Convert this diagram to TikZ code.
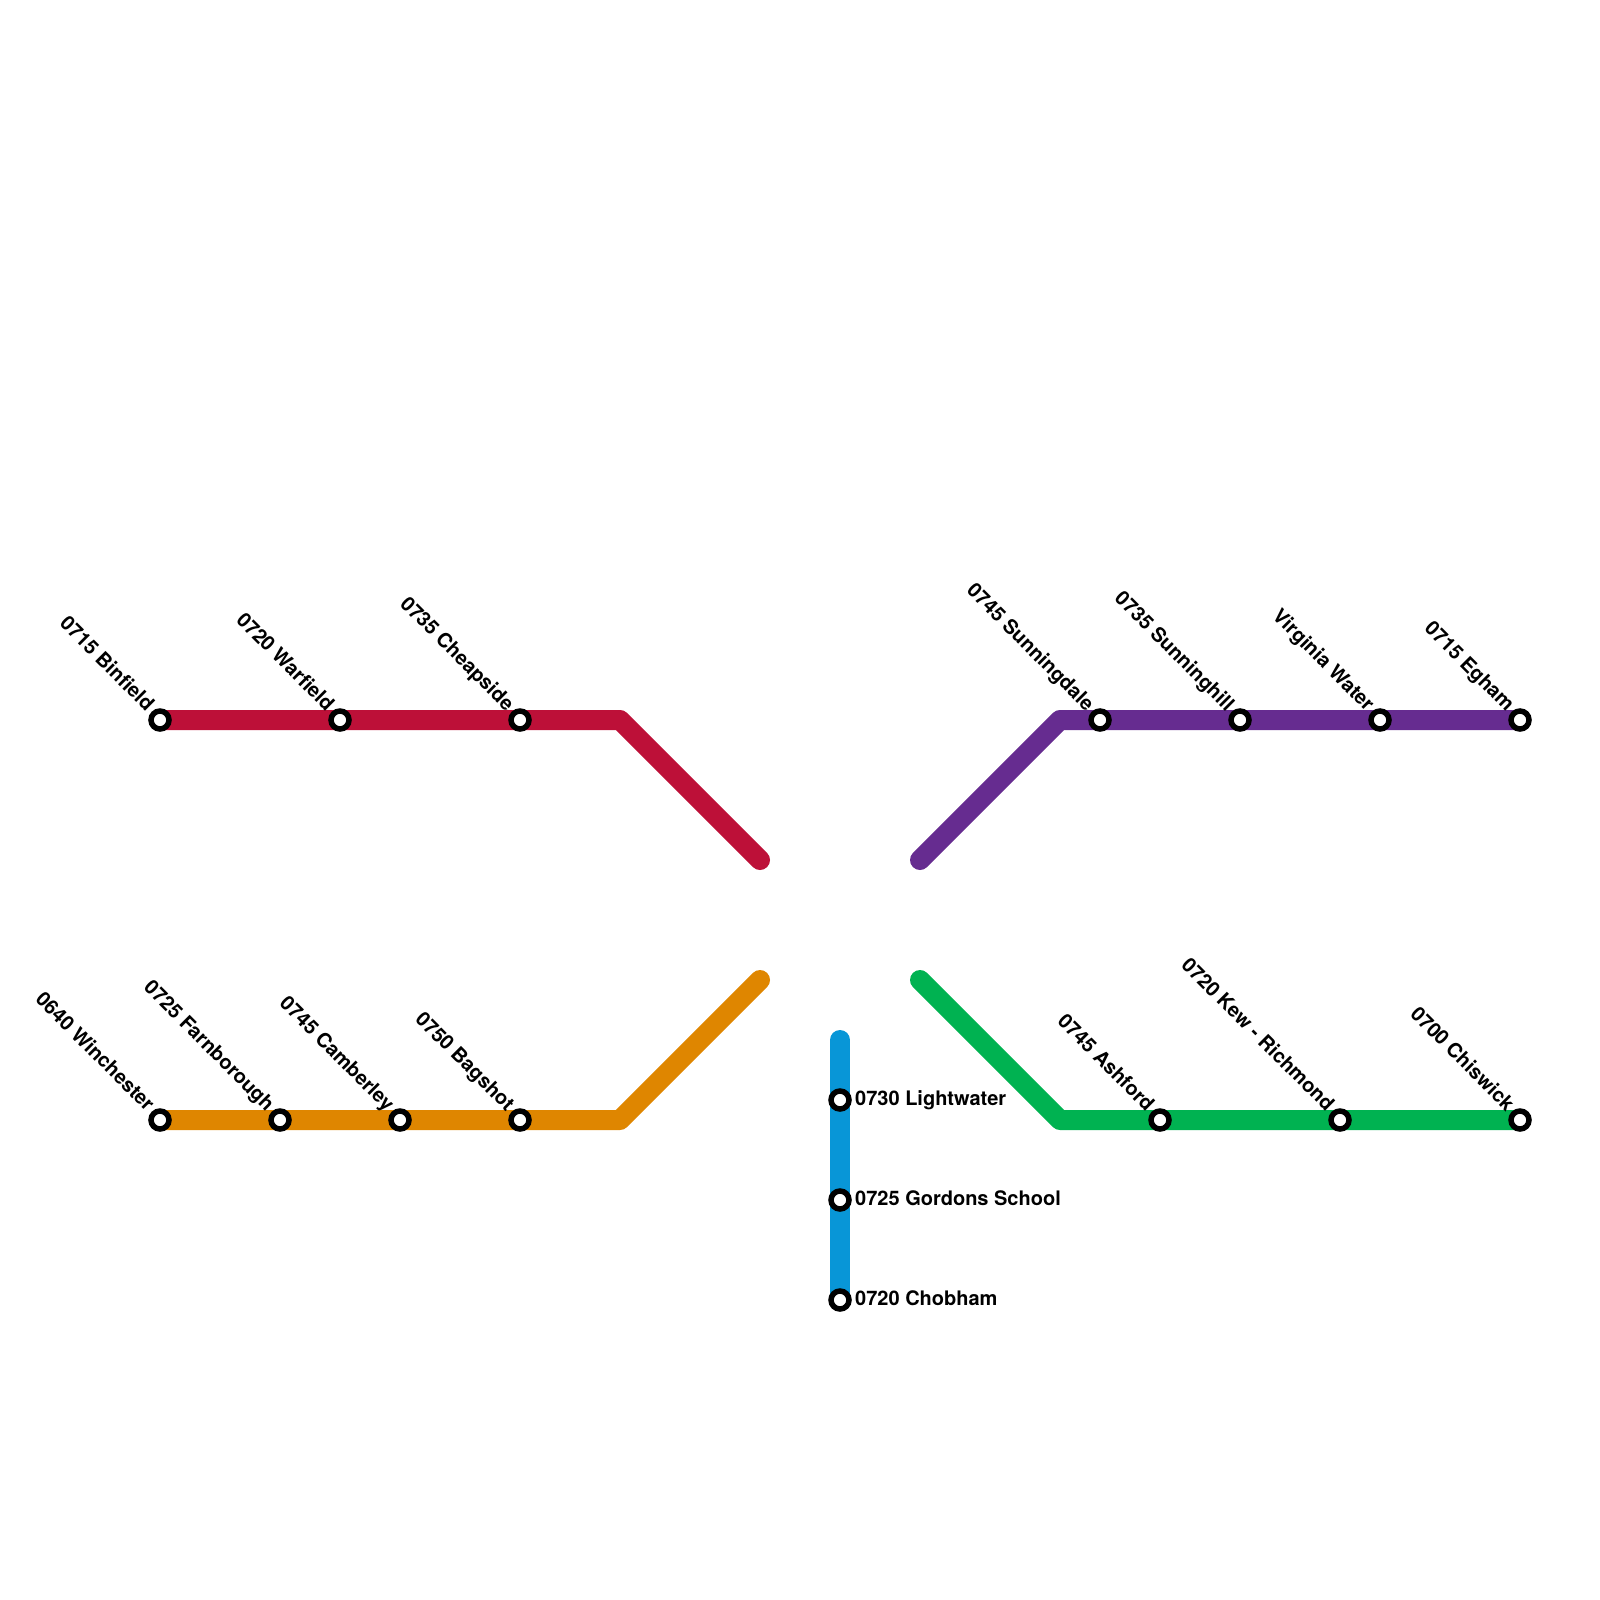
\documentclass[tikz,border=0pt]{standalone}
\usepackage{fontspec}
\setmainfont{TeX Gyre Heros}
\usetikzlibrary{backgrounds}
\definecolor{cred}{HTML}{BD1038}
\definecolor{corange}{HTML}{DF8600}
\definecolor{cpurple}{HTML}{662C90}
\definecolor{cgreen}{HTML}{00B251}
\definecolor{cblue}{HTML}{0896D7}
\tikzset{
  x=1pt,y=-1pt,
  stn/.style={circle,draw=black,line width=5.5pt,fill=white,outer sep=0pt,minimum size=18pt,inner sep=0pt},
  route/.style={line width=20pt,line cap=round,line join=round},
  lab/.style={font=\fontsize{20}{24}\selectfont\bfseries,inner sep=0pt},
  diag/.style={lab,rotate=-45,anchor=base east},
  side/.style={lab,anchor=base west}
}
\begin{document}
\begin{tikzpicture}
\useasboundingbox (0,0) rectangle (1600,1600);
% waypoints
\coordinate (r1) at (620,720); \coordinate (r2) at (760,860);
\coordinate (o1) at (620,1120); \coordinate (o2) at (760,980);
\coordinate (p1) at (1060,720); \coordinate (p2) at (920,860);
\coordinate (g1) at (1060,1120); \coordinate (g2) at (920,980);
\coordinate (b1) at (840,1040);
% stations
\foreach \n/\x/\y in {ra/160/720,rb/340/720,rc/520/720,
  oa/160/1120,ob/280/1120,oc/400/1120,od/520/1120,
  pa/1100/720,pb/1240/720,pc/1380/720,pd/1520/720,
  ga/1160/1120,gb/1340/1120,gc/1520/1120,
  ba/840/1100,bb/840/1200,bc/840/1300}
  \node[stn] (\n) at (\x,\y) {};
% routes
\begin{scope}[on background layer]
\draw[route,cred] (ra.center) -- (rb.center) -- (rc.center) -- (r1) -- (r2);
\draw[route,corange] (oa.center) -- (ob.center) -- (oc.center) -- (od.center) -- (o1) -- (o2);
\draw[route,cpurple] (p2) -- (p1) -- (pa.center) -- (pb.center) -- (pc.center) -- (pd.center);
\draw[route,cgreen] (g2) -- (g1) -- (ga.center) -- (gb.center) -- (gc.center);
\draw[route,cblue] (b1) -- (ba.center) -- (bb.center) -- (bc.center);
\end{scope}
% diagonal labels
\foreach \s/\t in {ra/0715 Binfield,rb/0720 Warfield,rc/0735 Cheapside,
  oa/0640 Winchester,ob/0725 Farnborough,oc/0745 Camberley,od/0750 Bagshot,
  pa/0745 Sunningdale,pb/0735 Sunninghill,pc/Virginia Water,pd/0715 Egham,
  ga/0745 Ashford,gb/0720 Kew - Richmond,gc/0700 Chiswick}
  \node[diag] (l\s) at (\s.center) [xshift=-15.2pt,yshift=-4.3pt] {\t};
% side labels
\node[side] (lba) at (855,1105) {0730 Lightwater};
\node[side] (lbb) at (855,1205) {0725 Gordons School};
\node[side] (lbc) at (855,1305) {0720 Chobham};
\end{tikzpicture}
\end{document}
